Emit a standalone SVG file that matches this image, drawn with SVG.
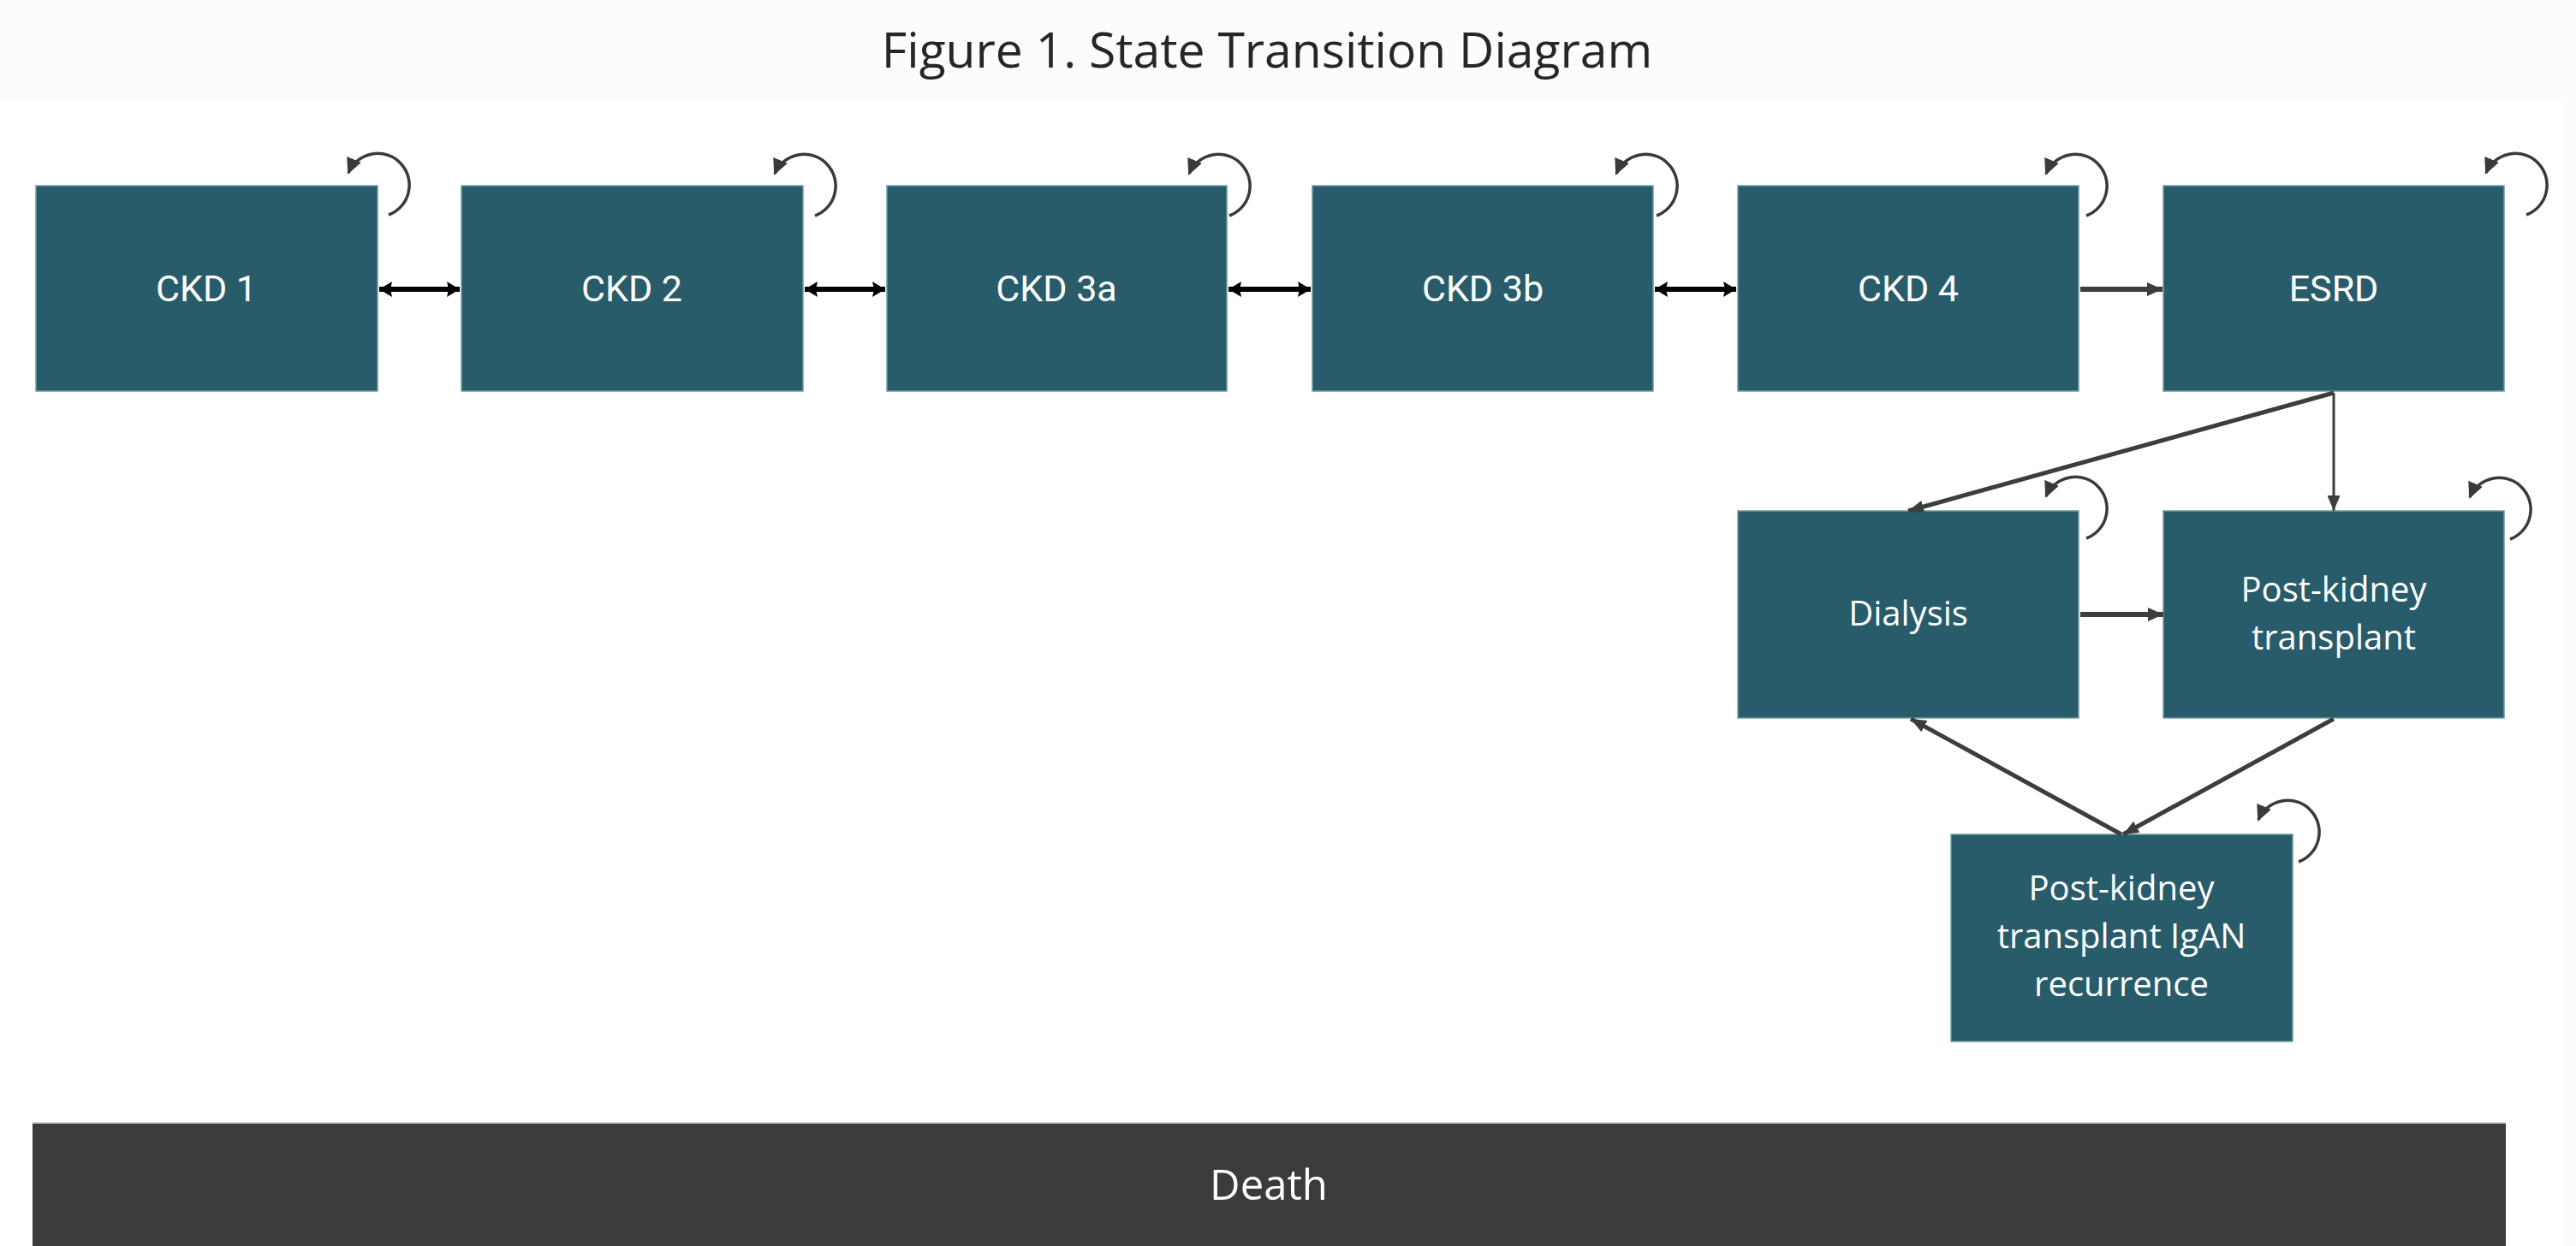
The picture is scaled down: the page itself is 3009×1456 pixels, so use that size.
<svg xmlns="http://www.w3.org/2000/svg" width="3009" height="1456" viewBox="0 0 3009 1456">
  <style>
    .box { fill: #285c6a; stroke: #6f9aa3; stroke-width: 1.5; }
    .lbl { fill: #ffffff; font-family: Roboto, "Liberation Sans", Arial, sans-serif; font-size: 43px; text-anchor: middle; }
    .lbl2 { fill: #ffffff; font-family: "Open Sans", "Liberation Sans", Arial, sans-serif; font-size: 40px; text-anchor: middle; }
    .title { fill: #262626; font-family: "Open Sans", "Liberation Sans", Arial, sans-serif; font-size: 57px; text-anchor: middle; }
    .death { fill: #3b3b3b; }
    .dlbl { fill: #ffffff; font-family: "Open Sans", "Liberation Sans", Arial, sans-serif; font-size: 49px; text-anchor: middle; }
    .dbl { stroke: #000000; stroke-width: 6; fill: none; marker-start: url(#hb); marker-end: url(#hb); }
    .one { stroke: #3d3d3d; stroke-width: 6; fill: none; marker-end: url(#hg); }
    .diag { stroke: #3d3d3d; stroke-width: 5; fill: none; marker-end: url(#hd); }
    .thin { stroke: #3d3d3d; stroke-width: 3; fill: none; marker-end: url(#hd); }
    .loop { stroke: #3a3a3a; stroke-width: 3.5; fill: none; marker-end: url(#hl); }
  </style>
  <defs>
    <marker id="hb" markerUnits="userSpaceOnUse" viewBox="0 0 15 18" refX="15" refY="9" markerWidth="15" markerHeight="18" orient="auto-start-reverse">
      <path d="M0,0 L15,9 L0,18 L2,9 z" fill="#000000"/>
    </marker>
    <marker id="hg" markerUnits="userSpaceOnUse" viewBox="0 0 18 16" refX="18" refY="8" markerWidth="18" markerHeight="16" orient="auto">
      <path d="M0,0 L18,8 L0,16 z" fill="#3d3d3d"/>
    </marker>
    <marker id="hd" markerUnits="userSpaceOnUse" viewBox="0 0 18 15" refX="18" refY="7.5" markerWidth="18" markerHeight="15" orient="auto">
      <path d="M0,0 L18,7.5 L0,15 z" fill="#3d3d3d"/>
    </marker>
    <marker id="hl" markerUnits="userSpaceOnUse" viewBox="0 0 19 18" refX="17" refY="9" markerWidth="19" markerHeight="18" orient="auto">
      <path d="M0,0 L19,9 L0,18 z" fill="#3a3a3a"/>
    </marker>
  </defs>

  <rect x="0" y="0" width="3009" height="1456" fill="#ffffff"/>
  <rect x="0" y="0" width="3009" height="116" fill="#fcfcfc"/>
  <rect x="2993" y="116" width="16" height="1340" fill="#fcfcfc"/>

  <text class="title" x="1480" y="79">Figure 1. State Transition Diagram</text>

  <g id="ckd1"><rect class="box" x="42" y="217" width="399" height="240"/><text class="lbl" x="241" y="352">CKD 1</text></g>
  <g id="ckd2"><rect class="box" x="539" y="217" width="399" height="240"/><text class="lbl" x="738" y="352">CKD 2</text></g>
  <g id="ckd3a"><rect class="box" x="1036" y="217" width="397" height="240"/><text class="lbl" x="1234" y="352">CKD 3a</text></g>
  <g id="ckd3b"><rect class="box" x="1533" y="217" width="398" height="240"/><text class="lbl" x="1732" y="352">CKD 3b</text></g>
  <g id="ckd4"><rect class="box" x="2030" y="217" width="398" height="240"/><text class="lbl" x="2229" y="352">CKD 4</text></g>
  <g id="esrd"><rect class="box" x="2527" y="217" width="398" height="240"/><text class="lbl" x="2726" y="352">ESRD</text></g>
  <g id="dialysis"><rect class="box" x="2030" y="597" width="398" height="242"/><text class="lbl2" x="2229" y="731">Dialysis</text></g>
  <g id="pkt"><rect class="box" x="2527" y="597" width="398" height="242"/><text class="lbl2" x="2726" y="703">Post-kidney</text><text class="lbl2" x="2726" y="759">transplant</text></g>
  <g id="recurrence"><rect class="box" x="2279" y="975" width="399" height="242"/><text class="lbl2" x="2478" y="1052">Post-kidney</text><text class="lbl2" x="2478" y="1108">transplant IgAN</text><text class="lbl2" x="2478" y="1164">recurrence</text></g>
  <g id="death"><rect class="death" x="38" y="1312" width="2889" height="150"/><line x1="38" y1="1312" x2="2927" y2="1312" stroke="#cfcfcf" stroke-width="2"/><text class="dlbl" x="1482" y="1402">Death</text></g>

  <g id="connectors">
    <path class="dbl" d="M443,338 L537,338"/>
    <path class="dbl" d="M940,338 L1034,338"/>
    <path class="dbl" d="M1435,338 L1531,338"/>
    <path class="dbl" d="M1933,338 L2028,338"/>
    <path class="one" d="M2430,338 L2526,338"/>
    <path class="diag" d="M2726,459 L2229,597"/>
    <path class="thin" d="M2726,459 L2726,597"/>
    <path class="one" d="M2430,718 L2527,718"/>
    <path class="diag" d="M2726,840 L2480,975"/>
    <path class="diag" d="M2478,975 L2232,840"/>

    <path class="loop" d="M454,251 A37,37 0 1 0 407,202"/>
    <path class="loop" d="M952,252 A37,37 0 1 0 905,203"/>
    <path class="loop" d="M1436,252 A37,37 0 1 0 1389,203"/>
    <path class="loop" d="M1935,252 A37,37 0 1 0 1888,203"/>
    <path class="loop" d="M2437,252 A37,37 0 1 0 2390,203"/>
    <path class="loop" d="M2951,251 A37,37 0 1 0 2904,202"/>
    <path class="loop" d="M2437,629 A37,37 0 1 0 2390,580"/>
    <path class="loop" d="M2932,630 A37,37 0 1 0 2885,581"/>
    <path class="loop" d="M2685,1007 A37,37 0 1 0 2638,958"/>
  </g>
</svg>
